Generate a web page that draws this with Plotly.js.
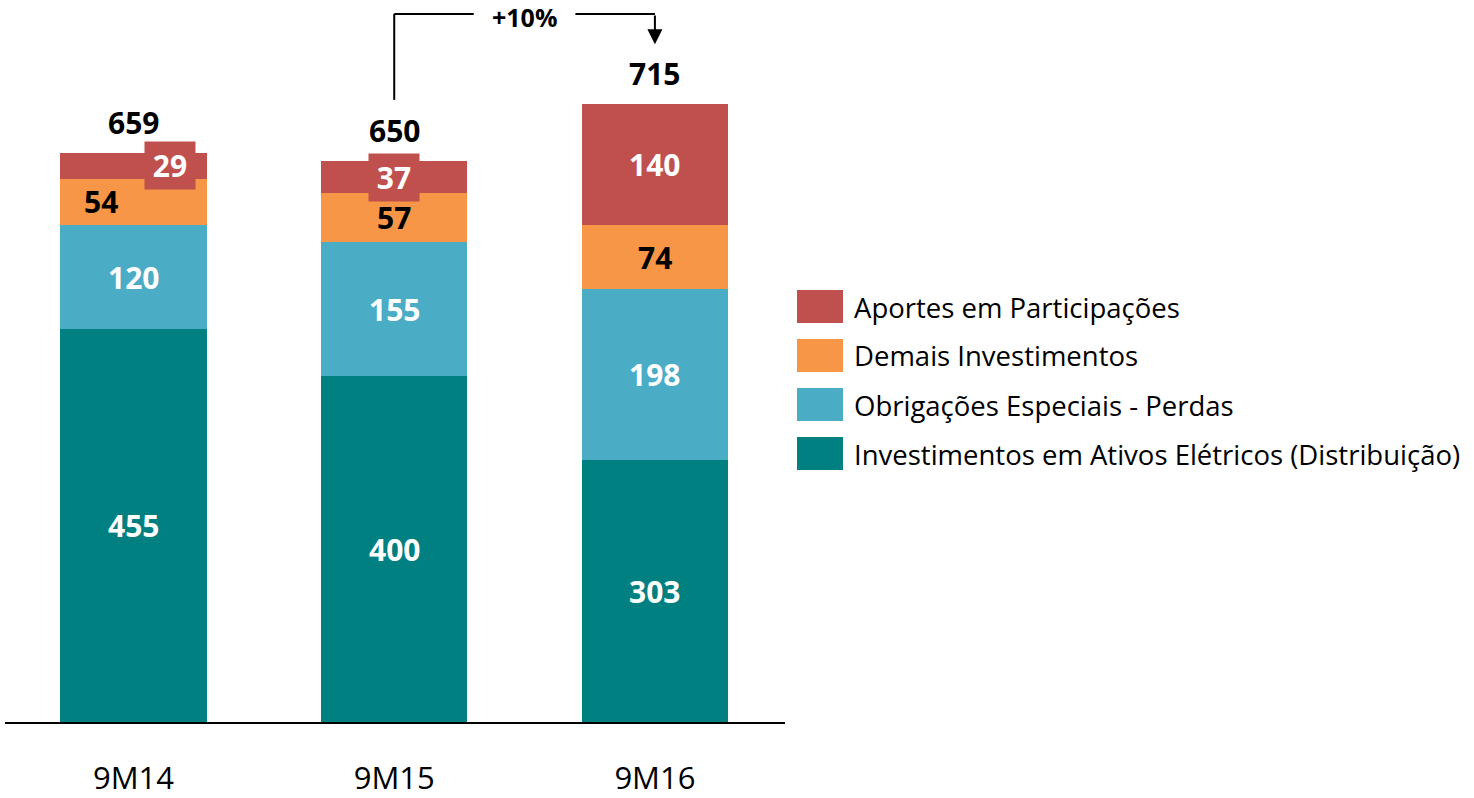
<!DOCTYPE html>
<html>
<head>
<meta charset="utf-8">
<script src="https://cdn.plot.ly/plotly-3.0.1.min.js"></script>
<style>html,body{margin:0;padding:0;background:#fff;}#chart{width:1474px;height:798px;}</style>
</head>
<body>
<div id="chart"></div>
<script>
const categories = ['9M14', '9M15', '9M16'];
const seriesNames = ['Aportes em Participações', 'Demais Investimentos', 'Obrigações Especiais - Perdas', 'Investimentos em Ativos Elétricos (Distribuição)'];
const aportes = [29, 37, 140];
const demais = [54, 57, 74];
const obrigacoes = [120, 155, 198];
const investimentos = [455, 400, 303];
const totals = [659, 650, 715];
const growthLabel = '+10%';

const colors = ['#C0504D', '#F79646', '#4BACC6', '#008080'];
const FONT = 'Open Sans, sans-serif';

// stacking order bottom -> top
const stack = [
  {name: seriesNames[3], y: investimentos, color: colors[3], txt: '#ffffff'},
  {name: seriesNames[2], y: obrigacoes, color: colors[2], txt: '#ffffff'},
  {name: seriesNames[1], y: demais, color: colors[1], txt: '#000000'},
  {name: seriesNames[0], y: aportes, color: colors[0], txt: '#ffffff'}
];

const traces = stack.map(s => ({
  type: 'bar', x: categories, y: s.y, name: s.name,
  marker: {color: s.color, line: {width: 0}},
  width: 0.562, hoverinfo: 'skip', showlegend: false
}));

const annotations = [];
const shapes = [];
const base = categories.map(() => 0);
stack.forEach((s, si) => {
  s.y.forEach((v, i) => {
    const mid = base[i] + v / 2;
    const a = {
      x: categories[i], y: mid, xref: 'x', yref: 'y', text: '<b>' + v + '</b>',
      showarrow: false, font: {family: FONT, size: 30, color: s.txt},
      xanchor: 'center', yanchor: 'middle'
    };
    if (si === 2 && i === 0) a.xshift = -33;
    if (si === 3 && i < 2) {
      a.bgcolor = s.color; a.width = 48; a.height = 45;
      if (i === 0) a.xshift = 36;
    }
    annotations.push(a);
    base[i] += v;
  });
});

// totals
totals.forEach((t, i) => {
  annotations.push({
    x: categories[i], y: base[i], xref: 'x', yref: 'y', text: '<b>' + t + '</b>',
    showarrow: false, yanchor: 'bottom', yshift: 8,
    font: {family: FONT, size: 30, color: '#000'}
  });
});

// growth bracket between 9M15 and 9M16
const yBracket = 819.5;
const yStart = 720;
const yTip = 784.5;
const gap = 0.195;
const lineStyle = {color: '#000', width: 2};
shapes.push({type: 'line', xref: 'x', yref: 'y', x0: 1, x1: 1, y0: yStart, y1: yBracket, line: lineStyle});
shapes.push({type: 'line', xref: 'x', yref: 'y', x0: 1, x1: 1.5 - gap, y0: yBracket, y1: yBracket, line: lineStyle});
shapes.push({type: 'line', xref: 'x', yref: 'y', x0: 1.5 + gap, x1: 2, y0: yBracket, y1: yBracket, line: lineStyle});
annotations.push({
  x: 2, y: yTip, ax: 2, ay: yBracket, xref: 'x', yref: 'y', axref: 'x', ayref: 'y',
  text: '', showarrow: true, arrowhead: 2, arrowsize: 1.5, arrowwidth: 2, arrowcolor: '#000'
});
annotations.push({
  x: 1.5, y: yBracket, xref: 'x', yref: 'y', text: '<b>' + growthLabel + '</b>',
  showarrow: false, font: {family: FONT, size: 25, color: '#000'}, yanchor: 'middle', yshift: -3
});

// custom legend (paper coords; plot spans px 5..785 horizontally, 0..722 vertically)
const px = v => (v - 5) / 780;
const py = v => (722 - v) / 722;
seriesNames.forEach((n, k) => {
  const top = 290 + k * 49;
  shapes.push({type: 'rect', xref: 'paper', yref: 'paper', x0: px(797), x1: px(843), y0: py(top + 33), y1: py(top),
    fillcolor: colors[k], line: {width: 0}});
  annotations.push({x: px(852), y: py(top + 17), xref: 'paper', yref: 'paper', text: n, showarrow: false,
    xanchor: 'left', yanchor: 'middle', font: {family: FONT, size: 27.5, color: '#000'}});
});

const layout = {
  width: 1474, height: 798,
  margin: {l: 5, r: 689, t: 0, b: 76},
  paper_bgcolor: '#fff', plot_bgcolor: '#fff',
  barmode: 'stack', bargap: 0,
  xaxis: {type: 'category', range: [-0.493, 2.499], showline: true, linecolor: '#000', linewidth: 2,
    showgrid: false, zeroline: false, ticks: '', ticklabelstandoff: 28,
    tickfont: {family: FONT, size: 31, color: '#000'}, fixedrange: true},
  yaxis: {range: [0, 835.6], visible: false, showgrid: false, zeroline: false, fixedrange: true},
  showlegend: false,
  annotations: annotations, shapes: shapes
};

Plotly.newPlot('chart', traces, layout, {displayModeBar: false, staticPlot: true});
</script>
</body>
</html>
